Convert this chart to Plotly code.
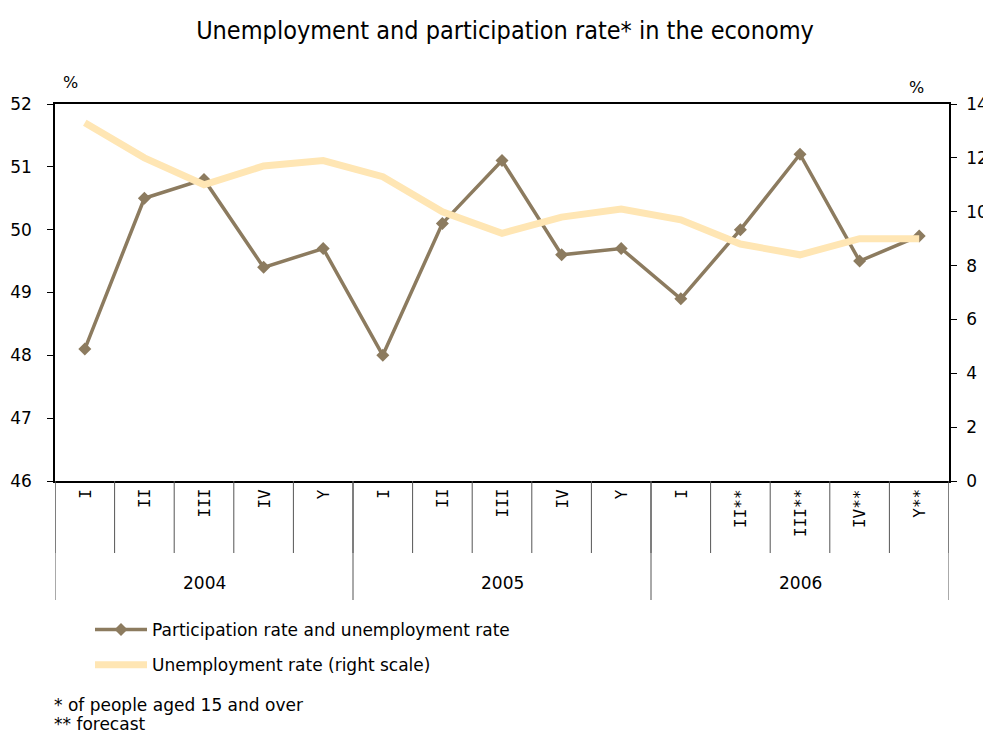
import plotly.graph_objects as go

quarters = ["I", "II", "III", "IV", "Y", "I", "II", "III", "IV", "Y", "I", "II**", "III**", "IV**", "Y**"]
years = ["2004", "2005", "2006"]
year_sizes = [5, 5, 5]
participation = [48.1, 50.5, 50.8, 49.4, 49.7, 48.0, 50.1, 51.1, 49.6, 49.7, 48.9, 50.0, 51.2, 49.5, 49.9]
unemployment = [13.3, 12.0, 11.0, 11.7, 11.9, 11.3, 10.0, 9.2, 9.8, 10.1, 9.7, 8.8, 8.4, 9.0, 9.0]

BROWN = "#8C7B5F"
LIGHT = "#FFE6B4"
SANS = "DejaVu Sans, Verdana, sans-serif"
TICKFONT = dict(family=SANS, size=17, color="black")

# page body has an 8px margin; compensate so the picture lands where the reference is
OFF = 8
W, H = 991 - OFF, 735 - OFF
L, R, T, B = 55, 949, 104, 481  # plot area in window pixels
PW, PH = R - L, B - T

x = list(range(len(quarters)))

fig = go.Figure()
fig.add_trace(go.Scatter(
    x=x, y=unemployment, yaxis="y2", mode="lines",
    line=dict(color=LIGHT, width=7),
    name="Unemployment rate (right scale)", legendgroup="b", legendrank=2,
))
fig.add_trace(go.Scatter(
    x=x, y=participation, yaxis="y", mode="lines+markers",
    line=dict(color=BROWN, width=3.5),
    marker=dict(symbol="diamond", size=10, color=BROWN),
    name="Participation rate and unemployment rate", legendgroup="a", legendrank=1,
))

shapes = []
annotations = []
for i in range(len(quarters) + 1):
    shapes.append(dict(type="line", xref="x", yref="paper", x0=i - 0.5, x1=i - 0.5,
                       y0=0, y1=-72 / PH, line=dict(color="#555555", width=1)))
bounds = [0]
for s in year_sizes:
    bounds.append(bounds[-1] + s)
for b in bounds:
    shapes.append(dict(type="line", xref="x", yref="paper", x0=b - 0.5, x1=b - 0.5,
                       y0=0, y1=-119 / PH, line=dict(color="#555555", width=1)))
for i, q in enumerate(quarters):
    annotations.append(dict(x=i, y=0, xref="x", yref="paper", text=q, showarrow=False,
                            textangle=-90, xanchor="center", yanchor="top", yshift=-6,
                            font=dict(family="DejaVu Sans Mono, monospace", size=16, color="black")))
for k, yr in enumerate(years):
    cx = (bounds[k] + bounds[k + 1] - 1) / 2
    annotations.append(dict(x=cx, y=-102 / PH, xref="x", yref="paper", text=yr, showarrow=False,
                            xanchor="center", yanchor="middle",
                            font=dict(family=SANS, size=17, color="black")))
annotations.append(dict(xref="paper", yref="paper", x=(70 - L) / PW, y=1 + 22 / PH, text="%",
                        showarrow=False, xanchor="center", yanchor="middle",
                        font=dict(family=SANS, size=16, color="black")))
annotations.append(dict(xref="paper", yref="paper", x=(916 - L) / PW, y=1 + 16 / PH, text="%",
                        showarrow=False, xanchor="center", yanchor="middle",
                        font=dict(family=SANS, size=16, color="black")))
annotations.append(dict(xref="paper", yref="paper", x=(52 - L) / PW, y=-(705 - B) / PH,
                        text="* of people aged 15 and over", showarrow=False, xanchor="left", yanchor="middle",
                        font=dict(family=SANS, size=17, color="black")))
annotations.append(dict(xref="paper", yref="paper", x=(52 - L) / PW, y=-(724 - B) / PH,
                        text="** forecast", showarrow=False, xanchor="left", yanchor="middle",
                        font=dict(family=SANS, size=17, color="black")))

fig.update_layout(
    width=W, height=H,
    margin=dict(l=L - OFF, r=W - (R - OFF), t=T - OFF, b=H - (B - OFF), autoexpand=False),
    paper_bgcolor="white", plot_bgcolor="white",
    title=dict(text="Unemployment and participation rate* in the economy",
               x=(505 - OFF) / W, xanchor="center",
               y=1 - (30 - OFF) / H, yanchor="middle",
               font=dict(family="Liberation Sans Narrow, DejaVu Sans Condensed, Arial Narrow, sans-serif",
                         size=25, color="black")),
    xaxis=dict(range=[-0.5, len(quarters) - 0.5], showticklabels=False, ticks="", showgrid=False,
               zeroline=False, showline=True, linecolor="black", linewidth=1.5, mirror=True),
    yaxis=dict(range=[46, 52], dtick=1, ticks="outside", ticklen=6, tickcolor="black",
               showgrid=False, zeroline=False, showline=True, linecolor="black", linewidth=1.5,
               tickfont=TICKFONT, ticklabelstandoff=12),
    yaxis2=dict(range=[0, 14], dtick=2, overlaying="y", side="right", ticks="outside", ticklen=6,
                tickcolor="black", showgrid=False, zeroline=False, showline=True, linecolor="black",
                linewidth=1.5, tickfont=TICKFONT, ticklabelstandoff=6),
    legend=dict(x=(90 - L) / PW, y=-(612 - B) / PH, xanchor="left", yanchor="top",
                traceorder="grouped", font=dict(family=SANS, size=17, color="black"),
                itemwidth=52, tracegroupgap=10, bgcolor="rgba(0,0,0,0)"),
    shapes=shapes, annotations=annotations, showlegend=True,
)

fig.write_html("out.html")
